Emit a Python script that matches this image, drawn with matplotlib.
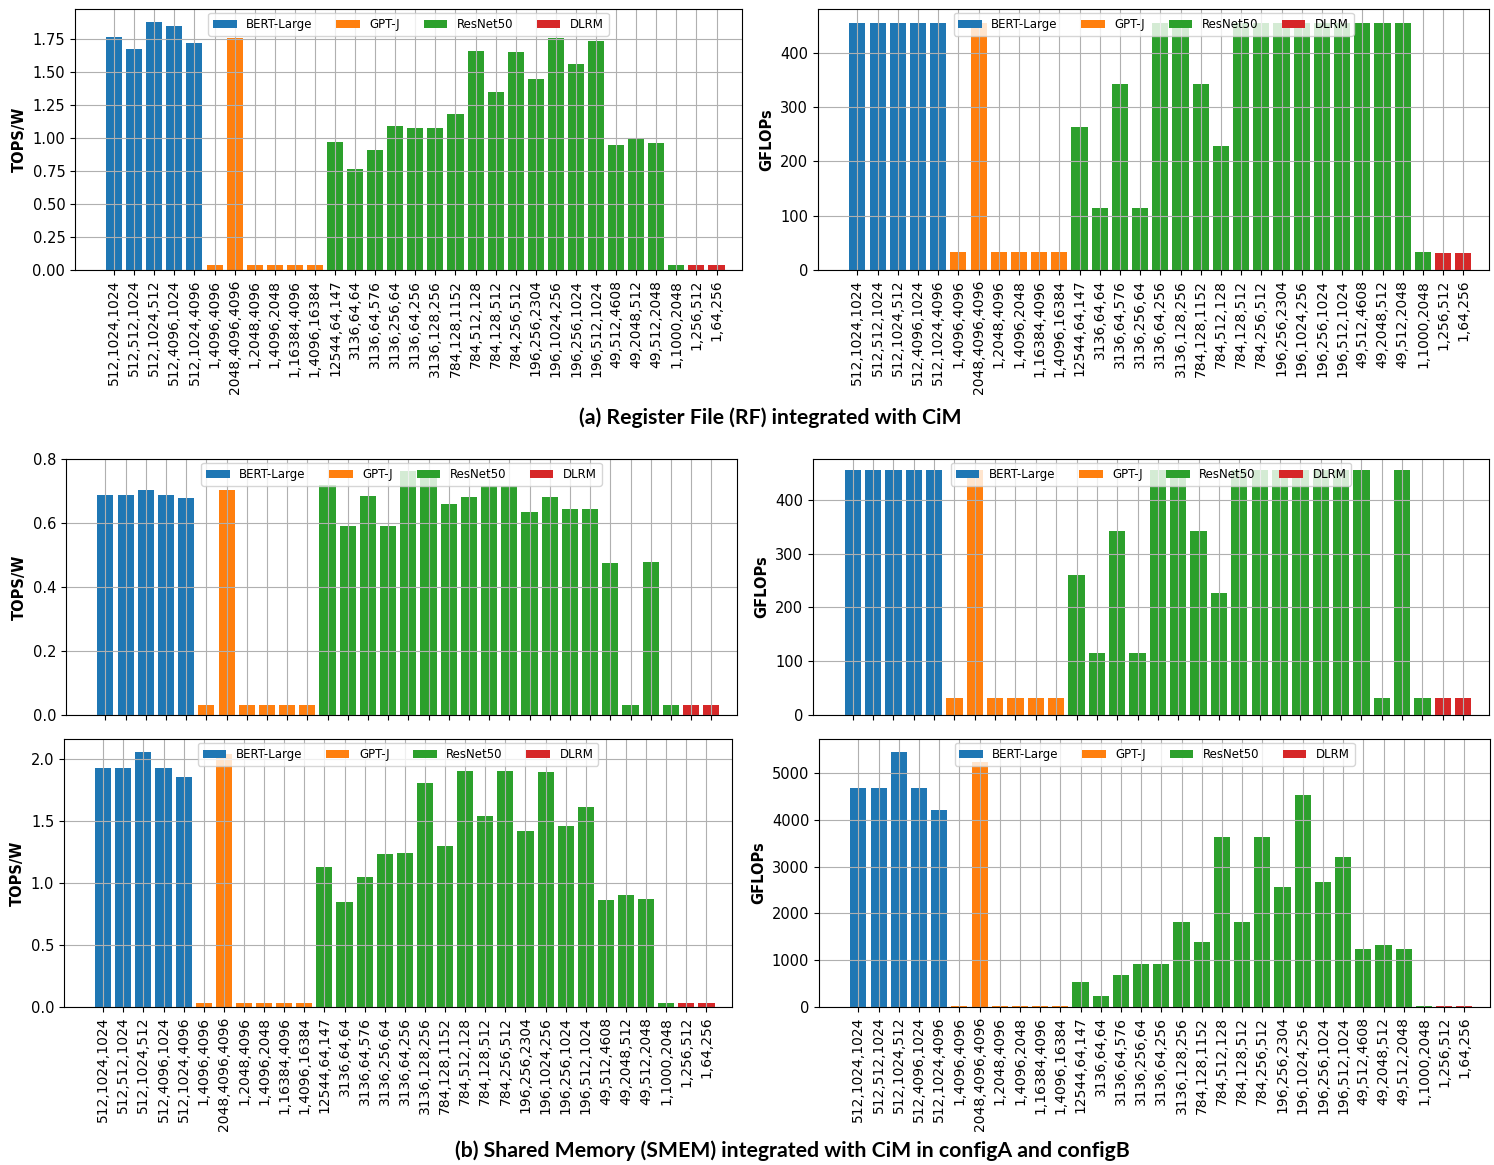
import matplotlib
matplotlib.use("Agg")
import matplotlib.pyplot as plt
import numpy as np
from matplotlib.ticker import MultipleLocator

# GEMM shapes (M,N,K) per workload
shapes = [
    "512,1024,1024", "512,512,1024", "512,1024,512", "512,4096,1024", "512,1024,4096",
    "1,4096,4096", "2048,4096,4096", "1,2048,4096", "1,4096,2048", "1,16384,4096",
    "1,4096,16384",
    "12544,64,147", "3136,64,64", "3136,64,576", "3136,256,64", "3136,64,256",
    "3136,128,256", "784,128,1152", "784,512,128", "784,128,512", "784,256,512",
    "196,256,2304", "196,1024,256", "196,256,1024", "196,512,1024", "49,512,4608",
    "49,2048,512", "49,512,2048", "1,1000,2048",
    "1,256,512", "1,64,256",
]
workloads = ["BERT-Large", "GPT-J", "ResNet50", "DLRM"]
workload_of = ["BERT-Large"] * 5 + ["GPT-J"] * 6 + ["ResNet50"] * 18 + ["DLRM"] * 2
colors = {"BERT-Large": "#1f77b4", "GPT-J": "#ff7f0e",
          "ResNet50": "#2ca02c", "DLRM": "#d62728"}

# (a) Register file
rf_tops = [1.767, 1.67, 1.88, 1.848, 1.72,
           0.035, 1.757, 0.035, 0.035, 0.035, 0.035,
           0.972, 0.763, 0.909, 1.092, 1.072, 1.072, 1.18, 1.655, 1.351, 1.647,
           1.449, 1.757, 1.562, 1.735, 0.944, 1.002, 0.959, 0.035,
           0.035, 0.035]
rf_gflops = [456, 456, 456, 456, 456,
             34, 456, 34, 34, 34, 34,
             263, 115, 343, 115, 456, 456, 343, 229, 456, 456,
             456, 456, 456, 456, 456, 456, 456, 34,
             31, 31]

# (b) Shared memory, configA
smem_a_tops = [0.688, 0.688, 0.703, 0.688, 0.678,
               0.03, 0.703, 0.03, 0.03, 0.03, 0.03,
               0.719, 0.592, 0.685, 0.592, 0.764, 0.764, 0.659, 0.682, 0.716, 0.716,
               0.635, 0.682, 0.643, 0.643, 0.476, 0.03, 0.479, 0.03,
               0.03, 0.03]
smem_a_gflops = [455, 455, 455, 455, 455,
                 31, 455, 31, 31, 31, 31,
                 261, 115, 342, 115, 455, 455, 342, 227, 455, 455,
                 455, 455, 455, 455, 455, 31, 455, 31,
                 31, 31]

# (b) Shared memory, configB
smem_b_tops = [1.93, 1.93, 2.056, 1.93, 1.855,
               0.032, 2.043, 0.032, 0.032, 0.032, 0.032,
               1.129, 0.847, 1.048, 1.234, 1.242, 1.804, 1.301, 1.901, 1.54, 1.906,
               1.422, 1.892, 1.46, 1.608, 0.863, 0.906, 0.871, 0.03,
               0.03, 0.03]
smem_b_gflops = [4680, 4680, 5449, 4680, 4217,
                 20, 5235, 20, 20, 20, 20,
                 541, 242, 684, 919, 919, 1823, 1389, 3632, 1823, 3632,
                 2564, 4537, 2678, 3212, 1246, 1332, 1246, 20,
                 20, 20]

W, H = 1494, 1165


def px_axes(fig, left, right, top, bottom):
    return fig.add_axes([left / W, 1 - bottom / H, (right - left) / W, (bottom - top) / H])


def draw(ax, values, ylabel, ylim, ystep, show_labels):
    x = np.arange(len(shapes))
    vals = np.asarray(values, dtype=float)
    for wl in workloads:
        idx = np.array([i for i, w in enumerate(workload_of) if w == wl])
        ax.bar(x[idx], vals[idx], width=0.8, color=colors[wl], label=wl)
    ax.set_xlim(-1.95, 31.27)
    ax.set_ylim(*ylim)
    ax.yaxis.set_major_locator(MultipleLocator(ystep))
    ax.set_xticks(x)
    if show_labels:
        ax.set_xticklabels(shapes, rotation=90, fontsize=10)
    else:
        ax.set_xticklabels([])
    ax.tick_params(axis="y", labelsize=10.5)
    ax.set_ylabel(ylabel, fontsize=10.5, fontweight="bold")
    ax.grid(True)
    ax.legend(loc="upper center", ncol=4, fontsize=8.5, borderaxespad=0.35)


fig = plt.figure(figsize=(W / 100, H / 100), dpi=100)

ax = px_axes(fig, 75, 742, 9, 270)
draw(ax, rf_tops, "TOPS/W", (0, 1.976), 0.25, True)
ax = px_axes(fig, 818, 1489, 9, 270)
draw(ax, rf_gflops, "GFLOPs", (0, 481), 100, True)

ax = px_axes(fig, 66, 737, 459, 715)
draw(ax, smem_a_tops, "TOPS/W", (0, 0.8), 0.2, False)
ax = px_axes(fig, 813, 1489, 459, 715)
draw(ax, smem_a_gflops, "GFLOPs", (0, 476), 100, False)

ax = px_axes(fig, 64, 732, 739, 1007)
draw(ax, smem_b_tops, "TOPS/W", (0, 2.16), 0.5, True)
ax = px_axes(fig, 819, 1490, 739, 1007)
draw(ax, smem_b_gflops, "GFLOPs", (0, 5730), 1000, True)

fig.text(770 / W, 1 - 418 / H, "(a) Register File (RF) integrated with CiM",
         ha="center", va="center", fontsize=15.3, fontweight="bold", family="Lato")
fig.text(792 / W, 1 - 1151 / H,
         "(b) Shared Memory (SMEM) integrated with CiM in configA and configB",
         ha="center", va="center", fontsize=15.3, fontweight="bold", family="Lato")

fig.savefig("out.png", dpi=100)
